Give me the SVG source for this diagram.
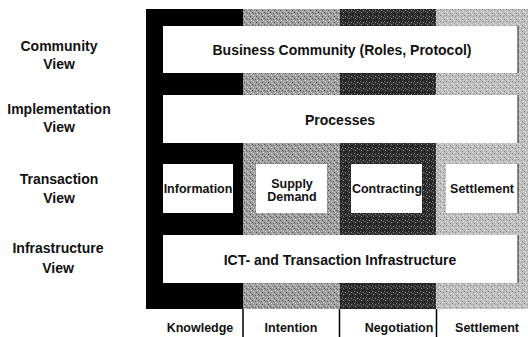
<svg xmlns="http://www.w3.org/2000/svg" width="528" height="337" viewBox="0 0 528 337">
  <defs>
    <!-- halftone-like stipple textures for the shaded columns -->
    <pattern id="stipMid" width="6" height="6" patternUnits="userSpaceOnUse">
      <rect width="6" height="6" fill="#9e9e9e"/>
      <rect x="0" y="0" width="1" height="1" fill="#555"/>
      <rect x="3" y="1" width="1" height="1" fill="#666"/>
      <rect x="1" y="3" width="1" height="1" fill="#dadada"/>
      <rect x="4" y="4" width="1" height="1" fill="#505050"/>
      <rect x="2" y="5" width="1" height="1" fill="#d4d4d4"/>
      <rect x="5" y="2" width="1" height="1" fill="#e0e0e0"/>
      <rect x="4" y="0" width="1" height="1" fill="#c8c8c8"/>
      <rect x="1" y="1" width="1" height="1" fill="#7a7a7a"/>
    </pattern>
    <pattern id="stipDark" width="6" height="6" patternUnits="userSpaceOnUse">
      <rect width="6" height="6" fill="#303030"/>
      <rect x="1" y="0" width="1" height="1" fill="#8a8a8a"/>
      <rect x="4" y="1" width="1" height="1" fill="#0a0a0a"/>
      <rect x="0" y="3" width="1" height="1" fill="#777"/>
      <rect x="3" y="4" width="1" height="1" fill="#909090"/>
      <rect x="5" y="3" width="1" height="1" fill="#080808"/>
      <rect x="2" y="2" width="1" height="1" fill="#101010"/>
      <rect x="5" y="5" width="1" height="1" fill="#666"/>
    </pattern>
    <pattern id="stipLight" width="6" height="6" patternUnits="userSpaceOnUse">
      <rect width="6" height="6" fill="#bebebe"/>
      <rect x="0" y="1" width="1" height="1" fill="#868686"/>
      <rect x="3" y="0" width="1" height="1" fill="#e8e8e8"/>
      <rect x="2" y="3" width="1" height="1" fill="#828282"/>
      <rect x="5" y="4" width="1" height="1" fill="#949494"/>
      <rect x="4" y="2" width="1" height="1" fill="#eaeaea"/>
      <rect x="1" y="5" width="1" height="1" fill="#ececec"/>
    </pattern>
    <style>
      .t { font-family: "Liberation Sans", Arial, sans-serif; font-weight: bold; fill: #111; text-anchor: middle; }
      .view { font-size: 14px; }
      .box { font-size: 14px; }
      .cell { font-size: 12.5px; }
      .col { font-size: 12.5px; }
      .panel { fill: #fff; }
      .edge { stroke: #222; stroke-width: 1; }
      .divider { stroke: #000; stroke-width: 1.5; }
    </style>
  </defs>

  <rect width="528" height="337" fill="#fff"/>

  <!-- phase columns -->
  <g id="columns">
    <rect x="146" y="9" width="97" height="300" fill="#000"/>
    <rect x="243" y="9" width="97" height="300" fill="url(#stipMid)"/>
    <rect x="340" y="9" width="96" height="300" fill="url(#stipDark)"/>
    <rect x="436" y="9" width="92" height="300" fill="url(#stipLight)"/>
  </g>

  <!-- view labels -->
  <g id="view-labels">
    <text class="t view" x="59" y="51">Community</text>
    <text class="t view" x="59" y="69">View</text>
    <text class="t view" x="59" y="114">Implementation</text>
    <text class="t view" x="59" y="132">View</text>
    <text class="t view" x="59" y="184">Transaction</text>
    <text class="t view" x="59" y="203">View</text>
    <text class="t view" x="58" y="253">Infrastructure</text>
    <text class="t view" x="58" y="273">View</text>
  </g>

  <!-- layer boxes -->
  <g id="business-community">
    <rect class="panel" x="163" y="26" width="355" height="47"/>
    <line class="edge" x1="518" y1="26" x2="518" y2="73"/>
    <text class="t box" x="342" y="55">Business Community (Roles, Protocol)</text>
  </g>
  <g id="processes">
    <rect class="panel" x="163" y="95" width="355" height="48"/>
    <line class="edge" x1="518" y1="95" x2="518" y2="143"/>
    <text class="t box" x="340" y="125">Processes</text>
  </g>
  <g id="information">
    <rect class="panel" x="163" y="164" width="70" height="49"/>
    <text class="t cell" x="198" y="193">Information</text>
  </g>
  <g id="supply-demand">
    <rect class="panel" x="256" y="164" width="71" height="49"/>
    <text class="t cell" x="292" y="188">Supply</text>
    <text class="t cell" x="292" y="201">Demand</text>
  </g>
  <g id="contracting">
    <rect class="panel" x="351" y="164" width="71" height="49"/>
    <text class="t cell" x="387" y="193">Contracting</text>
  </g>
  <g id="settlement-box">
    <rect class="panel" x="446" y="164" width="72" height="49"/>
    <line class="edge" x1="518" y1="164" x2="518" y2="213"/>
    <text class="t cell" x="482" y="193">Settlement</text>
  </g>
  <g id="infrastructure">
    <rect class="panel" x="163" y="235" width="355" height="48"/>
    <line class="edge" x1="518" y1="235" x2="518" y2="283"/>
    <text class="t box" x="340" y="265">ICT- and Transaction Infrastructure</text>
  </g>

  <!-- column dividers under the grid -->
  <g id="connectors">
    <line class="divider" x1="243" y1="309" x2="243" y2="337"/>
    <line class="divider" x1="339.5" y1="309" x2="339.5" y2="337"/>
    <line class="divider" x1="436.5" y1="309" x2="436.5" y2="337"/>
  </g>

  <!-- phase labels -->
  <g id="phase-labels">
    <text class="t col" x="200" y="332">Knowledge</text>
    <text class="t col" x="291" y="332">Intention</text>
    <text class="t col" x="399" y="332">Negotiation</text>
    <text class="t col" x="487" y="332">Settlement</text>
  </g>
</svg>
